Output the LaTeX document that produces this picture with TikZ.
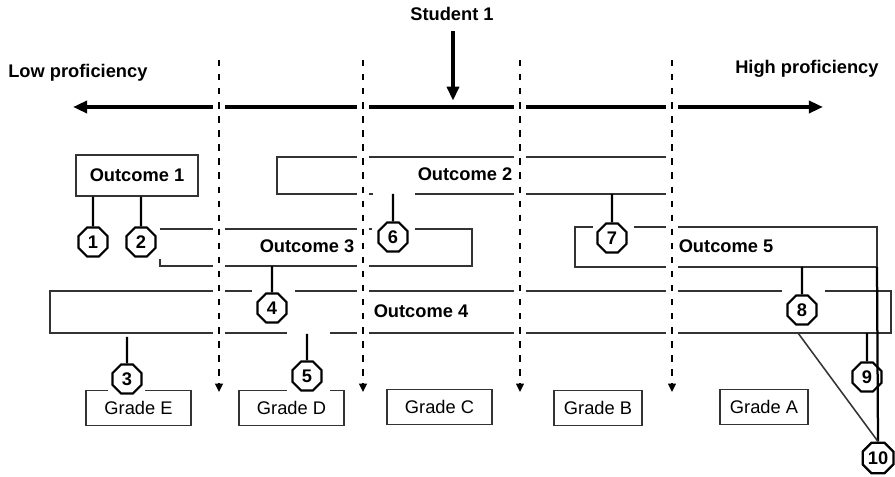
\documentclass[tikz,border=0pt]{standalone}
\usepackage{fontspec}
\setmainfont{Liberation Sans}
\usetikzlibrary{arrows.meta,shapes.geometric}
\newcommand{\figsize}{\fontsize{13}{15}\selectfont}
\tikzset{
  heavy/.style={line width=2.8pt},
  divider/.style={line width=1.5pt, dash pattern=on 4.5pt off 5.5pt,
    -{Triangle[length=6pt, width=5.5pt]},
    preaction={draw=white, line width=9pt, solid, -}},
  outline/.style={line width=0.9pt, black!80},
  stem/.style={line width=1.6pt},
  heading/.style={font=\figsize\bfseries, inner sep=0pt},
  outcome box/.style={draw=black!80, line width=0.9pt, minimum width=3.05cm,
    minimum height=1.025cm, font=\figsize\bfseries},
  grade/.style={draw=black!80, line width=1.1pt, minimum height=0.875cm, font=\figsize},
  badge/.style={regular polygon, regular polygon sides=8, draw, fill=white,
    line width=1.6pt, minimum size=0.78cm, inner sep=0.5pt,
    font=\fontsize{13}{15}\selectfont\bfseries},
  gap/.style={draw=white, line width=3pt},
}

\begin{document}
\begin{tikzpicture}[x=0.025cm, y=-0.025cm, >={Triangle[length=10pt, width=8.5pt]}]
  \useasboundingbox (0,0) rectangle (895,477);

  % Headings
  \node[heading, anchor=base] (student) at (452,21) {Student 1};
  \node[heading, anchor=base west] (low) at (8,78) {Low proficiency};
  \node[heading, anchor=base west] (high) at (735,74) {High proficiency};

  % Proficiency scale
  \coordinate (lowtip) at (73,107);
  \coordinate (hightip) at (823,107);
  \draw[heavy, <->] (lowtip) -- (hightip);
  \coordinate (s1) at (453,31);
  \draw[heavy, ->, shorten >=4.5pt] (s1) -- (s1 |- lowtip);

  % Outcome 2 (open on the right)
  \coordinate (o2sw) at (277,194);
  \draw[outline] (672,157) -- (277,157) -- (o2sw) -- (373,194);
  \draw[outline] (415,194) -- (672,194);

  % Outcome 3
  \coordinate (o3sw) at (160,266);
  \draw[outline] (372,229) -- (160,229);
  \draw[outline] (415,229) -- (472,229) -- (472,266) -- (o3sw) -- (160,259);

  % Outcome 4
  \coordinate (o4sw) at (50,333);
  \draw[outline] (252,291) -- (50,291) -- (o4sw) -- (287,333);
  \draw[outline] (295,291) -- (782,291);
  \draw[outline] (825,291) -- (891,291) -- (891,333) -- (330,333);

  % Outcome 5
  \coordinate (o5sw) at (575,267);
  \coordinate (o5se) at (877,267);
  \draw[outline] (593,227) -- (575,227) -- (o5sw) -- (o5se) -- (877,227) -- (634,227);

  % Grade boundaries
  \foreach \x [count=\i] in {219,363,520,672} {
    \coordinate (top\i) at (\x,60);
    \coordinate (bot\i) at (\x,392);
    \draw[divider] (top\i) -- (bot\i);
  }

  % Outcome labels
  \node[outcome box] (o1) at (137,175.5) {Outcome 1};
  \node[heading] (o2) at (465,174) {Outcome 2};
  \node[heading] (o3) at (307,246) {Outcome 3};
  \node[heading] (o4) at (421,311) {Outcome 4};
  \node[heading] (o5) at (726,246) {Outcome 5};

  % Grades
  \node[grade, minimum width=2.625cm] (gE) at (138.5,408) {Grade E};
  \node[grade, minimum width=2.625cm] (gD) at (291.5,408) {Grade D};
  \node[grade, minimum width=2.625cm] (gC) at (439.5,407) {Grade C};
  \node[grade, minimum width=2.2cm] (gB) at (598,408) {Grade B};
  \node[grade, minimum width=2.2cm] (gA) at (764,407) {Grade A};
  \draw[gap] (108,390.5) -- (145,390.5);
  \draw[gap] (287,390.5) -- (330,390.5);

  % Numbered markers
  \node[badge] (m1) at (93,242) {1};
  \node[badge] (m2) at (141,242) {2};
  \node[badge] (m3) at (127,379) {3};
  \node[badge] (m4) at (272,308) {4};
  \node[badge] (m5) at (307,376) {5};
  \node[badge] (m6) at (393,237) {6};
  \node[badge] (m7) at (612,238) {7};
  \node[badge] (m8) at (802,310) {8};
  \node[badge] (m9) at (867,377) {9};
  \node[badge] (m10) at (878,458) {10};

  % Stems
  \coordinate (s3) at (127,337);
  \coordinate (s5) at (307,334);
  \coordinate (s10) at (798,333);
  \draw[stem] (m1) -- (m1 |- o1.south);
  \draw[stem] (m2) -- (m2 |- o1.south);
  \draw[stem] (m3) -- (s3);
  \draw[stem] (m4) -- (m4 |- o3sw);
  \draw[stem] (m5) -- (s5);
  \draw[stem] (m6) -- (m6 |- o2sw);
  \draw[stem] (m7) -- (m7 |- o2sw);
  \draw[stem] (m8) -- (m8 |- o5sw);
  \draw[stem] (m9) -- (m9 |- o4sw);
  \draw[stem] (o5se) -- (m10.north);
  \draw[outline, line width=1.1pt] (s10) -- (m10.north);
\end{tikzpicture}
\end{document}
